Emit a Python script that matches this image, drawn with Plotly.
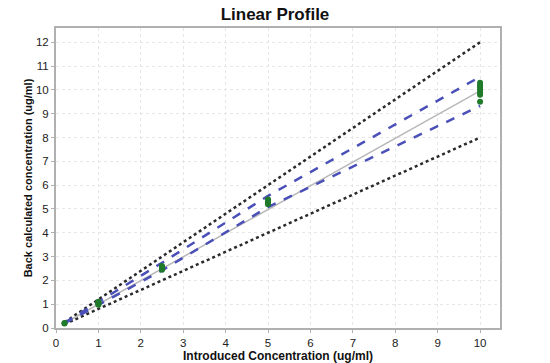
import plotly.graph_objects as go

# Data
levels = [0.2, 1, 2.5, 5, 10]
upper_limit = [0.24, 1.2, 3.0, 6.0, 12.0]
lower_limit = [0.16, 0.8, 2.0, 4.0, 8.0]
upper_ci = [0.22, 1.1, 2.74, 5.55, 10.55]
lower_ci = [0.19, 0.97, 2.42, 5.08, 9.33]
fit_x = [0.2, 10]
fit_y = [0.2, 9.96]
pts_x = [0.2, 0.2, 1, 1, 1, 1, 2.5, 2.5, 2.5, 2.5, 5, 5, 5, 5, 5,
         10, 10, 10, 10, 10, 10, 10]
pts_y = [0.19, 0.21, 0.98, 1.02, 1.06, 1.1, 2.45, 2.5, 2.55, 2.6,
         5.2, 5.25, 5.3, 5.35, 5.4,
         9.5, 9.8, 9.9, 10.0, 10.1, 10.2, 10.3]
x_ticks = list(range(0, 11))
y_ticks = list(range(0, 13))

fig = go.Figure()
fig.add_trace(go.Scatter(x=levels, y=upper_limit, mode="lines",
                         line=dict(color="#2a2a2a", width=2.5, dash="dot"), showlegend=False))
fig.add_trace(go.Scatter(x=levels, y=lower_limit, mode="lines",
                         line=dict(color="#2a2a2a", width=2.5, dash="dot"), showlegend=False))
fig.add_trace(go.Scatter(x=fit_x, y=fit_y, mode="lines",
                         line=dict(color="#b8b8b8", width=1.5), showlegend=False))
fig.add_trace(go.Scatter(x=levels, y=upper_ci, mode="lines",
                         line=dict(color="#4a50b8", width=2.5, dash="dash"), showlegend=False))
fig.add_trace(go.Scatter(x=levels, y=lower_ci, mode="lines",
                         line=dict(color="#4a50b8", width=2.5, dash="dash"), showlegend=False))
fig.add_trace(go.Scatter(x=pts_x, y=pts_y, mode="markers",
                         marker=dict(color="#1f7a2a", size=6), showlegend=False))

axis_common = dict(
    showline=True, linecolor="#b0b0b0", linewidth=2, mirror=True,
    showgrid=True, gridcolor="#e6e6e6", griddash="dot", gridwidth=1,
    zeroline=False, ticks="outside", ticklen=3, tickcolor="#b0b0b0",
    automargin=False,
    tickfont=dict(family="Liberation Sans, Arial", size=11.5, color="#222"),
)

fig.update_layout(
    width=550, height=363,
    margin=dict(l=56, r=50, t=28, b=35),
    paper_bgcolor="white", plot_bgcolor="white",
    title=dict(text="<b>Linear Profile</b>", x=0.5, xanchor="center", y=0.962, yanchor="middle",
               font=dict(family="Liberation Sans, Arial", size=17, color="#111")),
    xaxis=dict(range=[0, 10.47], tickvals=x_ticks,
               title=dict(text="<b>Introduced Concentration (ug/ml)</b>", standoff=2,
                          font=dict(family="Liberation Sans, Arial", size=12, color="#111")),
               **axis_common),
    yaxis=dict(range=[0, 12.6], tickvals=y_ticks,
               title=dict(text="<b>Back calculated concentration (ug/ml)</b>", standoff=1,
                          font=dict(family="Liberation Sans, Arial", size=11, color="#111")),
               **axis_common),
)

fig.write_html("out.html", config={"displayModeBar": False},
               post_script="document.body.style.margin='0';document.body.style.overflow='hidden';")
